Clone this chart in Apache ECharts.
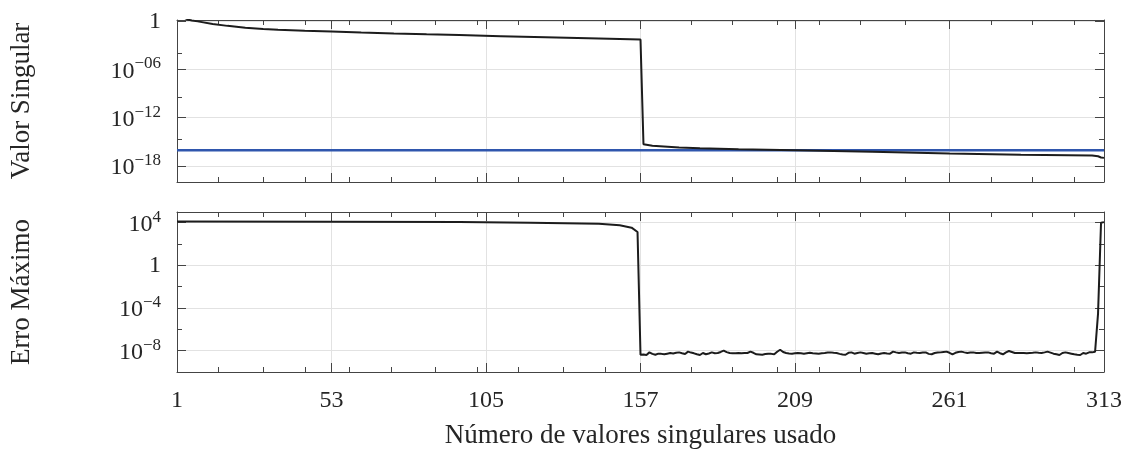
<!DOCTYPE html>
<html>
<head>
<meta charset="utf-8">
<script src="https://cdn.jsdelivr.net/npm/echarts@6/dist/echarts.min.js"></script>
<style>
  html, body { margin: 0; background: #fff; }
  #chart { width: 1128px; height: 452px; }
</style>
</head>
<body>
<div id="chart"></div>
<script>
// values are stored as log10 of what is plotted (both panels use log scales)
const xTicks = [1, 53, 105, 157, 209, 261, 313];
const xMinorTicks = [15, 30, 44, 59, 73, 88, 102, 116, 131, 145, 174, 188, 203, 217, 231, 246, 275, 289, 303];

const topTicks = [-18, -12, -6, 0];
const topTickText = ['10^−18', '10^−12', '10^−06', '1'];
const topMinorTicks = [-14.7, -9.4, -4];

const bottomTicks = [-8, -4, 0, 4];
const bottomTickText = ['10^−8', '10^−4', '1', '10^4'];
const bottomMinorTicks = [-6, -2, 2];

// singular values (log10)
const sigmaIdx = [1, 3, 5, 6, 8, 13, 18, 24, 30, 35, 44, 53, 63, 74, 85, 96, 110, 125, 143, 150, 157,
  158, 161, 170, 177, 190, 209, 235, 261, 285, 309, 311, 312, 313];
const sigmaLog = [0.9, 0.5, 0.17, 0.1, -0.02, -0.36, -0.58, -0.81, -0.96, -1.06, -1.18, -1.27, -1.40,
  -1.52, -1.63, -1.73, -1.86, -1.99, -2.14, -2.2, -2.27,
  -15.3, -15.5, -15.7, -15.8, -15.92, -16.05, -16.25, -16.46, -16.6, -16.7, -16.8, -16.95, -17.0];

// truncation tolerance (log10)
const tolLog = -16.04;

// maximum error, first part (log10)
const errHeadIdx = [1, 53, 96, 120, 143, 150, 154, 156];
const errHeadLog = [4.12, 4.09, 4.06, 4.0, 3.9, 3.75, 3.53, 3.13];
// maximum error from 157 to 313, one value per index (log10)
const errTailLog = [
  -8.38, -8.36, -8.40, -8.16, -8.30, -8.38, -8.28, -8.30, -8.34, -8.28, -8.22, -8.26, -8.20, -8.16, -8.24,
  -8.31, -8.09, -8.18, -8.25, -8.34, -8.41, -8.22, -8.34, -8.26, -8.16, -8.24, -8.22, -8.12, -8.00, -8.14,
  -8.22, -8.24, -8.25, -8.22, -8.24, -8.22, -8.22, -8.09, -8.20, -8.34, -8.36, -8.38, -8.32, -8.28, -8.30,
  -8.34, -8.10, -7.91, -8.12, -8.22, -8.26, -8.28, -8.24, -8.22, -8.25, -8.28, -8.24, -8.20, -8.24, -8.26,
  -8.28, -8.24, -8.22, -8.18, -8.16, -8.20, -8.22, -8.30, -8.36, -8.38, -8.20, -8.16, -8.28, -8.22, -8.16,
  -8.22, -8.28, -8.25, -8.22, -8.28, -8.34, -8.26, -8.22, -8.26, -8.28, -8.09, -8.16, -8.22, -8.18, -8.16,
  -8.24, -8.28, -8.16, -8.20, -8.22, -8.18, -8.16, -8.30, -8.34, -8.22, -8.18, -8.16, -8.12, -8.09, -8.20,
  -8.34, -8.20, -8.12, -8.09, -8.16, -8.22, -8.18, -8.16, -8.22, -8.22, -8.20, -8.18, -8.16, -8.24, -8.28,
  -8.09, -8.24, -8.34, -8.16, -8.03, -8.12, -8.22, -8.22, -8.22, -8.22, -8.24, -8.22, -8.20, -8.16, -8.20,
  -8.22, -8.16, -8.09, -8.18, -8.28, -8.34, -8.41, -8.22, -8.16, -8.22, -8.28, -8.34, -8.38, -8.41, -8.22,
  -8.28, -8.16, -8.16, -8.10, -4.5, 4.0, 4.05
];

const FONT = 'Liberation Serif';
const TEXT = '#262626';
const AXIS = '#444';
const GRIDC = '#e2e2e2';

const errData = errHeadIdx.map((x, i) => [x, errHeadLog[i]])
  .concat(errTailLog.map((v, i) => [157 + i, v]));
const sigmaData = sigmaIdx.map((x, i) => [x, sigmaLog[i]]);

function tickFormatter(ticks, texts) {
  return function (v) {
    const i = ticks.findIndex(t => Math.abs(t - v) < 1e-6);
    if (i < 0) return '';
    const parts = texts[i].split('^');
    return parts.length === 1 ? '{b|' + parts[0] + '}' : '{b|' + parts[0] + '}{s|' + parts[1] + '}';
  };
}

const rich = {
  b: { fontFamily: FONT, fontSize: 24, color: TEXT, verticalAlign: 'bottom' },
  s: { fontFamily: FONT, fontSize: 17, color: TEXT, verticalAlign: 'bottom', padding: [0, 0, 11, 0] }
};

function xAxes(gridIndex, withLabels) {
  const base = { type: 'value', gridIndex, min: 1, max: 313 };
  const line = { show: true, onZero: false, lineStyle: { color: AXIS, width: 1 } };
  return [
    Object.assign({}, base, {
      position: 'bottom',
      axisLine: line,
      axisTick: { show: true, inside: true, length: 9, customValues: xTicks, lineStyle: { color: AXIS } },
      axisLabel: { show: withLabels, customValues: xTicks, margin: 17, fontFamily: FONT, fontSize: 24, color: TEXT },
      splitLine: { show: true, lineStyle: { color: GRIDC, width: 1 } },
      name: withLabels ? 'Número de valores singulares usado' : '',
      nameLocation: 'middle',
      nameGap: 50,
      nameTextStyle: { fontFamily: FONT, fontSize: 27, color: TEXT }
    }),
    Object.assign({}, base, {
      position: 'top',
      axisLine: line,
      axisTick: { show: true, inside: true, length: 9, customValues: xTicks, lineStyle: { color: AXIS } },
      axisLabel: { show: false },
      splitLine: { show: false }
    }),
    Object.assign({}, base, {
      position: 'bottom',
      axisLine: { show: false, onZero: false },
      axisTick: { show: true, inside: true, length: 5, customValues: xMinorTicks, lineStyle: { color: AXIS } },
      axisLabel: { show: false },
      splitLine: { show: false }
    }),
    Object.assign({}, base, {
      position: 'top',
      axisLine: { show: false, onZero: false },
      axisTick: { show: true, inside: true, length: 5, customValues: xMinorTicks, lineStyle: { color: AXIS } },
      axisLabel: { show: false },
      splitLine: { show: false }
    })
  ];
}

function yAxes(gridIndex, min, max, ticks, texts, minors, name) {
  const base = { type: 'value', gridIndex, min, max };
  const line = { show: true, onZero: false, lineStyle: { color: AXIS, width: 1 } };
  return [
    Object.assign({}, base, {
      position: 'left',
      axisLine: line,
      axisTick: { show: true, inside: true, length: 9, customValues: ticks, lineStyle: { color: AXIS } },
      axisLabel: { show: true, customValues: ticks, margin: 16, formatter: tickFormatter(ticks, texts), rich },
      splitLine: { show: true, lineStyle: { color: GRIDC, width: 1 } },
      name,
      nameLocation: 'middle',
      nameGap: 142,
      nameTextStyle: { fontFamily: FONT, fontSize: 27, color: TEXT }
    }),
    Object.assign({}, base, {
      position: 'right',
      axisLine: line,
      axisTick: { show: true, inside: true, length: 9, customValues: ticks, lineStyle: { color: AXIS } },
      axisLabel: { show: false },
      splitLine: { show: false }
    }),
    Object.assign({}, base, {
      position: 'left',
      axisLine: { show: false, onZero: false },
      axisTick: { show: true, inside: true, length: 5, customValues: minors, lineStyle: { color: AXIS } },
      axisLabel: { show: false },
      splitLine: { show: false }
    }),
    Object.assign({}, base, {
      position: 'right',
      axisLine: { show: false, onZero: false },
      axisTick: { show: true, inside: true, length: 5, customValues: minors, lineStyle: { color: AXIS } },
      axisLabel: { show: false },
      splitLine: { show: false }
    })
  ];
}

const chart = echarts.init(document.getElementById('chart'));
chart.setOption({
  animation: false,
  backgroundColor: '#fff',
  grid: [
    { left: 175, right: 24, top: 20, height: 162 },
    { left: 175, right: 24, top: 212, height: 160 }
  ],
  xAxis: xAxes(0, false).concat(xAxes(1, true)),
  yAxis: yAxes(0, -20, 0.15, topTicks, topTickText, topMinorTicks, 'Valor Singular')
    .concat(yAxes(1, -10, 5, bottomTicks, bottomTickText, bottomMinorTicks, 'Erro Máximo')),
  series: [
    {
      type: 'line', xAxisIndex: 0, yAxisIndex: 0, symbol: 'none',
      data: [[1, tolLog], [313, tolLog]],
      lineStyle: { color: '#2f56ad', width: 2.5 }
    },
    {
      type: 'line', xAxisIndex: 0, yAxisIndex: 0, symbol: 'none',
      data: sigmaData,
      lineStyle: { color: '#1c1c1c', width: 2 }
    },
    {
      type: 'line', xAxisIndex: 4, yAxisIndex: 4, symbol: 'none',
      data: errData,
      lineStyle: { color: '#1c1c1c', width: 2 }
    }
  ]
});
</script>
</body>
</html>
